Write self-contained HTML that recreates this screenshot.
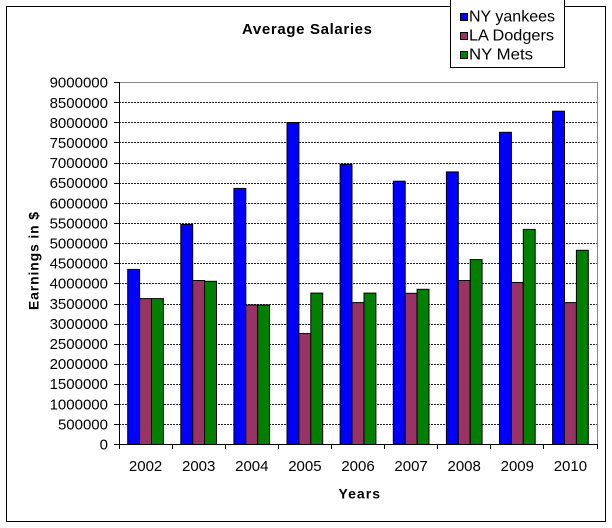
<!DOCTYPE html>
<html><head><meta charset="utf-8"><style>
html,body{margin:0;padding:0;background:#fff;}
svg{display:block;}
text{font-family:"Liberation Sans",Arial,sans-serif;fill:#000;}
</style></head><body>
<svg width="612" height="528" viewBox="0 0 612 528" xmlns="http://www.w3.org/2000/svg">
<rect x="0" y="0" width="612" height="528" fill="#fff"/>
<rect x="6.5" y="6.5" width="599" height="515" fill="none" stroke="#000" stroke-width="1"/>

<!-- title -->
<text x="242" y="34" font-size="15" font-weight="bold" textLength="130" lengthAdjust="spacing">Average Salaries</text>

<!-- legend -->
<rect x="450.5" y="-2" width="114" height="69.5" fill="#fff" stroke="#000" stroke-width="1"/>
<rect x="460.5" y="13.5" width="7" height="7" fill="#0000ff" stroke="#000" stroke-width="1"/>
<rect x="460.5" y="32.5" width="7" height="7" fill="#993366" stroke="#000" stroke-width="1"/>
<rect x="460.5" y="51.5" width="7" height="7" fill="#008000" stroke="#000" stroke-width="1"/>
<text x="469" y="21.5" font-size="16" textLength="86" lengthAdjust="spacingAndGlyphs">NY yankees</text>
<text x="469" y="40.5" font-size="16" textLength="85" lengthAdjust="spacingAndGlyphs">LA Dodgers</text>
<text x="469" y="59.5" font-size="16" textLength="64" lengthAdjust="spacingAndGlyphs">NY Mets</text>

<!-- gridlines -->
<g stroke="#222" stroke-width="1" stroke-dasharray="2,1">
<line x1="119" y1="424.5" x2="597" y2="424.5"/>
<line x1="119" y1="404.5" x2="597" y2="404.5"/>
<line x1="119" y1="384.5" x2="597" y2="384.5"/>
<line x1="119" y1="364.5" x2="597" y2="364.5"/>
<line x1="119" y1="344.5" x2="597" y2="344.5"/>
<line x1="119" y1="324.5" x2="597" y2="324.5"/>
<line x1="119" y1="304.5" x2="597" y2="304.5"/>
<line x1="119" y1="283.5" x2="597" y2="283.5"/>
<line x1="119" y1="263.5" x2="597" y2="263.5"/>
<line x1="119" y1="243.5" x2="597" y2="243.5"/>
<line x1="119" y1="223.5" x2="597" y2="223.5"/>
<line x1="119" y1="203.5" x2="597" y2="203.5"/>
<line x1="119" y1="183.5" x2="597" y2="183.5"/>
<line x1="119" y1="163.5" x2="597" y2="163.5"/>
<line x1="119" y1="142.5" x2="597" y2="142.5"/>
<line x1="119" y1="122.5" x2="597" y2="122.5"/>
<line x1="119" y1="102.5" x2="597" y2="102.5"/>
</g>
<!-- plot border top/right -->
<polyline points="119,82.5 597.5,82.5 597.5,444.5" fill="none" stroke="#888" stroke-width="1"/>

<!-- bars -->
<g stroke="#000" stroke-width="1">
<g fill="#0000ff">
<rect x="127.7" y="269.4" width="11.9" height="175.1"/>
<rect x="180.8" y="224.4" width="11.9" height="220.1"/>
<rect x="233.9" y="188.4" width="11.9" height="256.1"/>
<rect x="287.0" y="122.5" width="11.9" height="322.0"/>
<rect x="340.1" y="164.3" width="11.9" height="280.2"/>
<rect x="393.3" y="181.2" width="11.9" height="263.3"/>
<rect x="446.4" y="171.9" width="11.9" height="272.6"/>
<rect x="499.5" y="132.3" width="11.9" height="312.2"/>
<rect x="552.6" y="111.2" width="11.9" height="333.3"/>
</g>
<g fill="#993366">
<rect x="139.6" y="298.6" width="11.9" height="145.9"/>
<rect x="192.7" y="280.5" width="11.9" height="164.0"/>
<rect x="245.8" y="305.0" width="11.9" height="139.5"/>
<rect x="298.9" y="333.5" width="11.9" height="111.0"/>
<rect x="352.0" y="302.6" width="11.9" height="141.9"/>
<rect x="405.2" y="293.3" width="11.9" height="151.2"/>
<rect x="458.3" y="280.5" width="11.9" height="164.0"/>
<rect x="511.4" y="282.5" width="11.9" height="162.0"/>
<rect x="564.5" y="302.6" width="11.9" height="141.9"/>
</g>
<g fill="#008000">
<rect x="151.5" y="298.6" width="11.9" height="145.9"/>
<rect x="204.6" y="281.3" width="11.9" height="163.2"/>
<rect x="257.7" y="305.0" width="11.9" height="139.5"/>
<rect x="310.8" y="293.1" width="11.9" height="151.4"/>
<rect x="364.0" y="293.1" width="11.9" height="151.4"/>
<rect x="417.1" y="289.3" width="11.9" height="155.2"/>
<rect x="470.2" y="259.6" width="11.9" height="184.9"/>
<rect x="523.3" y="229.4" width="11.9" height="215.1"/>
<rect x="576.4" y="250.3" width="11.9" height="194.2"/>
</g>
</g>

<!-- axes -->
<g stroke="#000" stroke-width="1">
<line x1="119.5" y1="82" x2="119.5" y2="445"/>
<line x1="119" y1="444.5" x2="598" y2="444.5"/>
<!-- y ticks -->
<line x1="114" y1="444.5" x2="119" y2="444.5"/>
<line x1="114" y1="424.5" x2="119" y2="424.5"/>
<line x1="114" y1="404.5" x2="119" y2="404.5"/>
<line x1="114" y1="384.5" x2="119" y2="384.5"/>
<line x1="114" y1="364.5" x2="119" y2="364.5"/>
<line x1="114" y1="344.5" x2="119" y2="344.5"/>
<line x1="114" y1="324.5" x2="119" y2="324.5"/>
<line x1="114" y1="304.5" x2="119" y2="304.5"/>
<line x1="114" y1="283.5" x2="119" y2="283.5"/>
<line x1="114" y1="263.5" x2="119" y2="263.5"/>
<line x1="114" y1="243.5" x2="119" y2="243.5"/>
<line x1="114" y1="223.5" x2="119" y2="223.5"/>
<line x1="114" y1="203.5" x2="119" y2="203.5"/>
<line x1="114" y1="183.5" x2="119" y2="183.5"/>
<line x1="114" y1="163.5" x2="119" y2="163.5"/>
<line x1="114" y1="142.5" x2="119" y2="142.5"/>
<line x1="114" y1="122.5" x2="119" y2="122.5"/>
<line x1="114" y1="102.5" x2="119" y2="102.5"/>
<line x1="114" y1="82.5" x2="119" y2="82.5"/>
<!-- x ticks -->
<line x1="119.5" y1="444" x2="119.5" y2="449"/>
<line x1="172.5" y1="444" x2="172.5" y2="449"/>
<line x1="225.5" y1="444" x2="225.5" y2="449"/>
<line x1="278.5" y1="444" x2="278.5" y2="449"/>
<line x1="331.5" y1="444" x2="331.5" y2="449"/>
<line x1="384.5" y1="444" x2="384.5" y2="449"/>
<line x1="437.5" y1="444" x2="437.5" y2="449"/>
<line x1="490.5" y1="444" x2="490.5" y2="449"/>
<line x1="543.5" y1="444" x2="543.5" y2="449"/>
<line x1="597.5" y1="444" x2="597.5" y2="449"/>
</g>

<!-- y labels -->
<g font-size="15" text-anchor="end">
<text x="108" y="449.5">0</text>
<text x="108" y="429.5">500000</text>
<text x="108" y="409.5">1000000</text>
<text x="108" y="389.2">1500000</text>
<text x="108" y="369.1">2000000</text>
<text x="108" y="349">2500000</text>
<text x="108" y="328.9">3000000</text>
<text x="108" y="308.8">3500000</text>
<text x="108" y="288.7">4000000</text>
<text x="108" y="268.6">4500000</text>
<text x="108" y="248.5">5000000</text>
<text x="108" y="228.4">5500000</text>
<text x="108" y="208.3">6000000</text>
<text x="108" y="188.2">6500000</text>
<text x="108" y="168.1">7000000</text>
<text x="108" y="148">7500000</text>
<text x="108" y="127.9">8000000</text>
<text x="108" y="107.8">8500000</text>
<text x="108" y="87.7">9000000</text>
</g>

<!-- x labels -->
<g font-size="15" text-anchor="middle">
<text x="145.6" y="471">2002</text>
<text x="198.7" y="471">2003</text>
<text x="251.8" y="471">2004</text>
<text x="304.9" y="471">2005</text>
<text x="358" y="471">2006</text>
<text x="411.1" y="471">2007</text>
<text x="464.2" y="471">2008</text>
<text x="517.3" y="471">2009</text>
<text x="570.4" y="471">2010</text>
</g>

<!-- axis titles -->
<text x="338.5" y="498.5" font-size="14" font-weight="bold" textLength="41.5" lengthAdjust="spacing">Years</text>
<text transform="translate(38.5,310) rotate(-90)" x="0" y="0" font-size="14" font-weight="bold" textLength="98" lengthAdjust="spacing">Earnings in $</text>
</svg>
</body></html>
